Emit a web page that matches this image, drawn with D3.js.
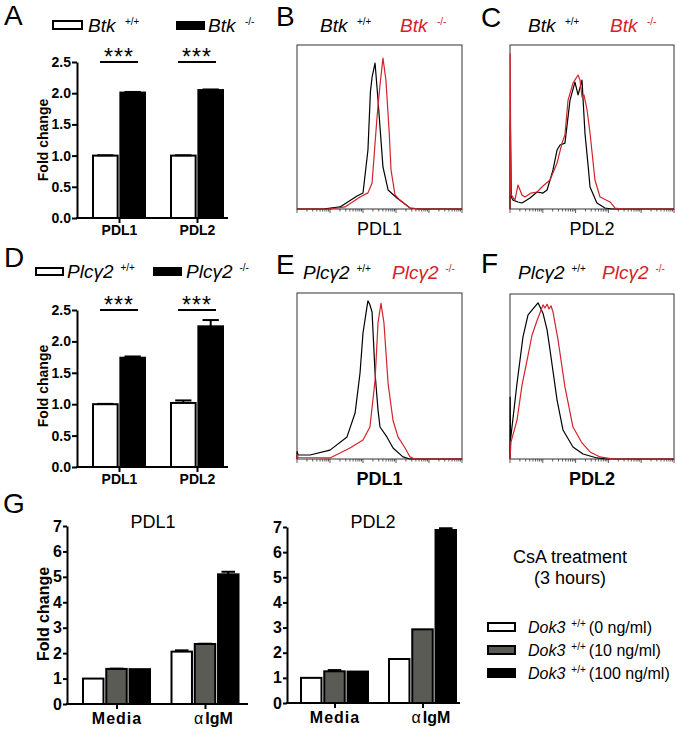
<!DOCTYPE html>
<html><head><meta charset="utf-8">
<script src="https://cdn.jsdelivr.net/npm/d3@7"></script>
<style>
body{margin:0;background:#fff;}
svg{font-family:"Liberation Sans",Arial,Helvetica,sans-serif;}
</style></head><body>
<svg id="fig" width="677" height="731"></svg>
<script>
// ---------------- DATA ----------------
const barCategories = ["PDL1", "PDL2"];
const btkSeries = ["Btk +/+", "Btk -/-"];
const btkWT = [1.00, 1.00];
const btkWTErr = [0.005, 0.005];
const btkKO = [2.01, 2.05];
const btkKOErr = [0.01, 0.01];
const plcSeries = ["Plcγ2 +/+", "Plcγ2 -/-"];
const plcWT = [1.00, 1.02];
const plcWTErr = [0.005, 0.04];
const plcKO = [1.74, 2.24];
const plcKOErr = [0.02, 0.10];
const yTicksAD = [0, 0.5, 1.0, 1.5, 2.0, 2.5];

const gCategories = ["Media", "αIgM"];
const doseSeries = ["0 ng/ml", "10 ng/ml", "100 ng/ml"];
const pdl1Dose0 = [1.00, 2.06];
const pdl1Dose0Err = [0, 0.05];
const pdl1Dose10 = [1.38, 2.36];
const pdl1Dose10Err = [0.01, 0.01];
const pdl1Dose100 = [1.37, 5.10];
const pdl1Dose100Err = [0, 0.10];
const pdl2Dose0 = [1.00, 1.75];
const pdl2Dose0Err = [0, 0];
const pdl2Dose10 = [1.26, 2.93];
const pdl2Dose10Err = [0.05, 0];
const pdl2Dose100 = [1.25, 6.88];
const pdl2Dose100Err = [0, 0.07];
const yTicksG = [0, 1, 2, 3, 4, 5, 6, 7];

// histograms: [channel (0-1000, log display), % of max]
const histB_wt = [[0,0],[158,0],[261,1.4],[364,8.9],[400,10.9],[430,40.3],[445,80],[455,90],[473,99.7],[491,74.4],[521,28.7],[552,13],[606,7.5],[685,0.7],[745,0],[1000,0]];
const histB_ko = [[0,0],[200,0],[291,1.4],[382,8.2],[430,11],[455,17.8],[485,62.8],[503,84.7],[521,103],[539,88],[558,54],[570,26.6],[594,9.6],[624,6.1],[655,3.4],[685,0.7],[745,0],[1000,0]];
const histC_wt = [[0,0],[2,60],[8,8],[18,6.1],[49,4.8],[73,4.1],[122,7.5],[165,11.6],[201,10.9],[226,13],[262,26.6],[287,40.3],[305,43.7],[335,45],[366,74.4],[396,86.7],[415,77.9],[439,88],[457,51.9],[476,30],[488,15],[530,4.1],[579,0.7],[622,0],[1000,0]];
const histC_ko = [[0,0],[1,106],[6,10],[30,6.1],[49,16.4],[73,9.6],[91,8.2],[128,10.9],[165,11.6],[201,15.7],[244,19.8],[287,31.4],[317,45],[335,50.5],[354,74.4],[384,86],[415,91.5],[427,88],[439,76.5],[451,77.9],[470,67.6],[488,51.9],[518,19.8],[549,8.2],[610,4.8],[640,0.7],[689,0],[1000,0]];
const histE_wt = [[0,0],[1,5],[6,2.7],[79,2.7],[200,6],[303,14.9],[352,31],[382,58],[400,85],[424,102.6],[430,106.7],[442,104],[455,99],[473,58],[491,33],[503,21.6],[545,14.9],[582,7.4],[642,1.4],[685,0],[1000,0]];
const histE_ko = [[0,0],[1,3],[6,1],[200,0.7],[321,7.4],[400,12.8],[442,21.6],[473,53],[491,91.8],[509,105],[527,91.8],[552,51],[582,26],[612,14.9],[655,7.4],[685,1.4],[715,0],[1000,0]];
const histF_wt = [[0,0],[1,42],[3,12.9],[43,51.6],[79,82.8],[110,97.8],[134,101],[171,106],[201,99],[226,87.6],[244,74],[287,40],[323,19.7],[384,8.1],[445,3.4],[530,0.7],[591,0],[1000,0]];
const histF_ko = [[0,0],[6,11.5],[43,26.5],[73,50],[104,67],[134,84],[165,94],[189,101],[201,104.6],[213,102.5],[226,105],[238,101.8],[250,104],[262,99.8],[293,80.8],[335,48.9],[384,21.7],[439,10.9],[488,4.8],[549,1.4],[628,0],[1000,0]];

// ---------------- DRAWING ----------------
const svg = d3.select("#fig");
const RED = "#d2232a";

function panelLetter(x, y, t) {
  svg.append("text").attr("x", x).attr("y", y).style("font-size", "28px").text(t);
}

function genoText(x, y, gene, sup, color, size, supSize, extra, supGap) {
  const t = svg.append("text").attr("x", x).attr("y", y).attr("fill", color).style("font-size", size + "px");
  t.append("tspan").style("font-style", "italic").text(gene);
  t.append("tspan").attr("dx", supGap != null ? supGap : size * 0.5).attr("dy", -size * 0.38).style("font-size", supSize + "px").text(sup);
  if (extra) t.append("tspan").attr("dx", 3).attr("dy", size * 0.38).text(extra);
}

function barChart(cfg) {
  const g = svg.append("g");
  const y = d3.scaleLinear().domain(cfg.yDomain).range([cfg.y0, cfg.yTop]);
  const x = d3.scalePoint().domain(cfg.categories).range(cfg.centers);
  const inner = d3.scaleBand().domain(cfg.series.map((s, i) => i)).range([-cfg.half, cfg.half]).paddingInner(cfg.innerPad);
  const bw = inner.bandwidth();
  cfg.categories.forEach((c, ci) => {
    cfg.values.forEach((vals, si) => {
      const v = vals[ci];
      const x0 = x(c) + inner(si);
      g.append("rect").attr("x", x0).attr("y", y(v)).attr("width", bw).attr("height", y(0) - y(v))
        .attr("fill", cfg.fills[si]).attr("stroke", "#000").attr("stroke-width", 2);
      const e = cfg.errs[si][ci];
      if (e > 0) {
        const cx = x0 + bw / 2;
        g.append("line").attr("x1", cx).attr("x2", cx).attr("y1", y(v)).attr("y2", y(v + e)).attr("stroke", "#000").attr("stroke-width", 2);
        g.append("line").attr("x1", cx - bw * 0.33).attr("x2", cx + bw * 0.33).attr("y1", y(v + e)).attr("y2", y(v + e)).attr("stroke", "#000").attr("stroke-width", 2);
      }
    });
  });
  // y axis
  const ya = g.append("g").attr("transform", `translate(${cfg.axisX},0)`)
    .call(d3.axisLeft(y).tickValues(cfg.yTicks).tickFormat(cfg.fmt).tickSize(cfg.tickLen).tickPadding(1).tickSizeOuter(0));
  ya.select(".domain").attr("stroke-width", 2);
  ya.selectAll(".tick line").attr("stroke-width", 2);
  ya.selectAll(".tick text").style("font-size", cfg.tickFont + "px").style("font-weight", "bold").attr("fill", "#000")
    .style("font-family", '"Liberation Sans",Arial,sans-serif');
  // x axis
  g.append("line").attr("x1", cfg.axisX - 1).attr("x2", cfg.xEnd).attr("y1", cfg.y0).attr("y2", cfg.y0).attr("stroke", "#000").attr("stroke-width", 2);
  const xa = g.append("g").attr("transform", `translate(0,${cfg.y0})`)
    .call(d3.axisBottom(x).tickSize(5).tickPadding(cfg.catPad).tickSizeOuter(0));
  xa.select(".domain").remove();
  xa.selectAll(".tick line").attr("stroke-width", 2);
  xa.selectAll(".tick text").style("font-size", cfg.catFont + "px").style("font-weight", "bold").attr("fill", "#000")
    .style("font-family", '"Liberation Sans",Arial,sans-serif')
    .each(function(d) {
      if (d.indexOf("α") === 0) {
        const t = d3.select(this); t.text(null).attr("dx", 8);
        t.append("tspan").style("font-weight", "normal").text("α");
        t.append("tspan").attr("dx", 2).text(d.slice(1));
      } else if (cfg.letterSpacing) d3.select(this).style("letter-spacing", cfg.letterSpacing + "px");
    });
  if (cfg.ylabel) {
    g.append("text").attr("transform", `translate(${cfg.ylabelX},${cfg.ylabelY}) rotate(-90)`)
      .attr("text-anchor", "middle").style("font-size", cfg.ylabelFont + "px").style("font-weight", "bold").text(cfg.ylabel);
  }
  if (cfg.sig) {
    cfg.categories.forEach(c => {
      const ly = y(cfg.sigLevel);
      g.append("line").attr("x1", x(c) - 19).attr("x2", x(c) + 19).attr("y1", ly).attr("y2", ly).attr("stroke", "#000").attr("stroke-width", 2);
      g.append("text").attr("x", x(c)).attr("y", ly + 3).attr("text-anchor", "middle").style("font-size", "23px").style("letter-spacing", "1px").text("***");
    });
  }
  if (cfg.title) {
    g.append("text").attr("x", cfg.titleX).attr("y", cfg.titleY).attr("text-anchor", "middle").style("font-size", "18px").text(cfg.title);
  }
  return g;
}

function histogram(cfg) {
  const g = svg.append("g");
  const x = d3.scaleLinear().domain([0, 1000]).range([cfg.left, cfg.right]);
  const y = d3.scaleLinear().domain([0, 112]).range([cfg.bottom, cfg.top]);
  const lx = d3.scaleLog().domain([1, 1e5]).range([cfg.left, cfg.right]);
  g.append("rect").attr("x", cfg.left).attr("y", cfg.top).attr("width", cfg.right - cfg.left).attr("height", cfg.bottom - cfg.top)
    .attr("fill", "none").attr("stroke", "#333").attr("stroke-width", 1);
  lx.ticks().forEach(t => {
    const major = Math.abs(Math.log10(t) - Math.round(Math.log10(t))) < 1e-9;
    g.append("line").attr("x1", lx(t)).attr("x2", lx(t)).attr("y1", cfg.bottom).attr("y2", cfg.bottom + (major ? 4 : 2.5))
      .attr("stroke", "#333").attr("stroke-width", 0.8);
  });
  const line = d3.line().x(d => x(d[0])).y(d => y(d[1]));
  cfg.curves.forEach(c => {
    g.append("path").attr("d", line(c.data)).attr("fill", "none").attr("stroke", c.color).attr("stroke-width", 1.2).attr("stroke-linejoin", "round");
  });
  g.append("text").attr("x", (cfg.left + cfg.right) / 2).attr("y", cfg.labelY).attr("text-anchor", "middle")
    .style("font-size", "18px").style("font-weight", cfg.bold ? "bold" : "normal").text(cfg.label);
}

// ---------- Panel A ----------
panelLetter(4, 25, "A");
svg.append("rect").attr("x", 53).attr("y", 21).attr("width", 29).attr("height", 8).attr("fill", "#fff").attr("stroke", "#000").attr("stroke-width", 2);
genoText(88, 32, "Btk", "+/+", "#000", 19, 10);
svg.append("rect").attr("x", 176).attr("y", 21).attr("width", 29).attr("height", 9).attr("fill", "#000");
genoText(208, 32, "Btk", "-/-", "#000", 19, 10);
barChart({
  categories: barCategories, series: btkSeries, values: [btkWT, btkKO], errs: [btkWTErr, btkKOErr],
  fills: ["#fff", "#000"], yDomain: [0, 2.5], y0: 218, yTop: 62, centers: [119, 197], half: 26, innerPad: 0.1,
  axisX: 77, xEnd: 228, yTicks: yTicksAD, fmt: d3.format(".1f"), tickLen: 5, tickFont: 14, catFont: 14, catPad: 2,
  ylabel: "Fold change", ylabelX: 48, ylabelY: 140, ylabelFont: 14, sig: true, sigLevel: 2.5
});

// ---------- Panel B / C ----------
panelLetter(276, 26, "B");
genoText(320, 32, "Btk", "+/+", "#000", 19, 10);
genoText(400, 32, "Btk", "-/-", RED, 19, 10);
histogram({ left: 297, right: 462, top: 45, bottom: 209, labelY: 235, label: "PDL1",
  curves: [{ data: histB_wt, color: "#000" }, { data: histB_ko, color: RED }] });
panelLetter(481, 27, "C");
genoText(528, 32, "Btk", "+/+", "#000", 19, 10);
genoText(610, 32, "Btk", "-/-", RED, 19, 10);
histogram({ left: 510, right: 674, top: 45, bottom: 209, labelY: 235, label: "PDL2",
  curves: [{ data: histC_wt, color: "#000" }, { data: histC_ko, color: RED }] });

// ---------- Panel D ----------
panelLetter(4, 267, "D");
svg.append("rect").attr("x", 36).attr("y", 268).attr("width", 27).attr("height", 7).attr("fill", "#fff").attr("stroke", "#000").attr("stroke-width", 2);
genoText(67, 278, "Plcγ2", "+/+", "#000", 19, 10, null, 7);
svg.append("rect").attr("x", 153).attr("y", 267).attr("width", 29).attr("height", 9).attr("fill", "#000");
genoText(186, 278, "Plcγ2", "-/-", "#000", 19, 10, null, 7);
barChart({
  categories: barCategories, series: plcSeries, values: [plcWT, plcKO], errs: [plcWTErr, plcKOErr],
  fills: ["#fff", "#000"], yDomain: [0, 2.5], y0: 467, yTop: 310, centers: [119, 197], half: 26, innerPad: 0.1,
  axisX: 77, xEnd: 228, yTicks: yTicksAD, fmt: d3.format(".1f"), tickLen: 5, tickFont: 14, catFont: 14, catPad: 2,
  ylabel: "Fold change", ylabelX: 48, ylabelY: 386, ylabelFont: 14, sig: true, sigLevel: 2.5
});

// ---------- Panel E / F ----------
panelLetter(276, 274, "E");
genoText(303, 279, "Plcγ2", "+/+", "#000", 19, 10, null, 7);
genoText(392, 279, "Plcγ2", "-/-", RED, 19, 10, null, 7);
histogram({ left: 297, right: 462, top: 293, bottom: 459, labelY: 485, label: "PDL1", bold: true,
  curves: [{ data: histE_wt, color: "#000" }, { data: histE_ko, color: RED }] });
panelLetter(481, 273, "F");
genoText(518, 279, "Plcγ2", "+/+", "#000", 19, 10, null, 7);
genoText(602, 279, "Plcγ2", "-/-", RED, 19, 10, null, 7);
histogram({ left: 510, right: 674, top: 294, bottom: 459, labelY: 485, label: "PDL2", bold: true,
  curves: [{ data: histF_wt, color: "#000" }, { data: histF_ko, color: RED }] });

// ---------- Panel G ----------
panelLetter(3, 513, "G");
const GRAY = "#5b5b55";
barChart({
  categories: gCategories, series: doseSeries, values: [pdl1Dose0, pdl1Dose10, pdl1Dose100],
  errs: [pdl1Dose0Err, pdl1Dose10Err, pdl1Dose100Err], fills: ["#fff", GRAY, "#000"],
  yDomain: [0, 7], y0: 704, yTop: 526, centers: [116.5, 205], half: 33.5, innerPad: 0.12,
  axisX: 67, xEnd: 248, yTicks: yTicksG, fmt: d3.format("d"), tickLen: 4, tickFont: 16, catFont: 16, catPad: 4, letterSpacing: 1,
  ylabel: "Fold change", ylabelX: 49, ylabelY: 614, ylabelFont: 16, title: "PDL1", titleX: 153, titleY: 528
});
barChart({
  categories: gCategories, series: doseSeries, values: [pdl2Dose0, pdl2Dose10, pdl2Dose100],
  errs: [pdl2Dose0Err, pdl2Dose10Err, pdl2Dose100Err], fills: ["#fff", GRAY, "#000"],
  yDomain: [0, 7], y0: 703, yTop: 527, centers: [334.5, 422.5], half: 33.5, innerPad: 0.12,
  axisX: 287, xEnd: 460, yTicks: yTicksG, fmt: d3.format("d"), tickLen: 4, tickFont: 16, catFont: 16, catPad: 4, letterSpacing: 1,
  title: "PDL2", titleX: 373, titleY: 528
});

// legend G
svg.append("text").attr("x", 570).attr("y", 563).attr("text-anchor", "middle").style("font-size", "18px").text("CsA treatment");
svg.append("text").attr("x", 570).attr("y", 584).attr("text-anchor", "middle").style("font-size", "18px").text("(3 hours)");
const legFills = ["#fff", GRAY, "#000"];
doseSeries.forEach((d, i) => {
  const cy = 627 + i * 23;
  svg.append("rect").attr("x", 488).attr("y", cy - 4).attr("width", 27).attr("height", 8)
    .attr("fill", legFills[i]).attr("stroke", "#000").attr("stroke-width", 2);
  genoText(528, cy + 6, "Dok3", "+/+", "#000", 16, 10, "(" + d + ")", 6);
});
</script>
</body></html>
